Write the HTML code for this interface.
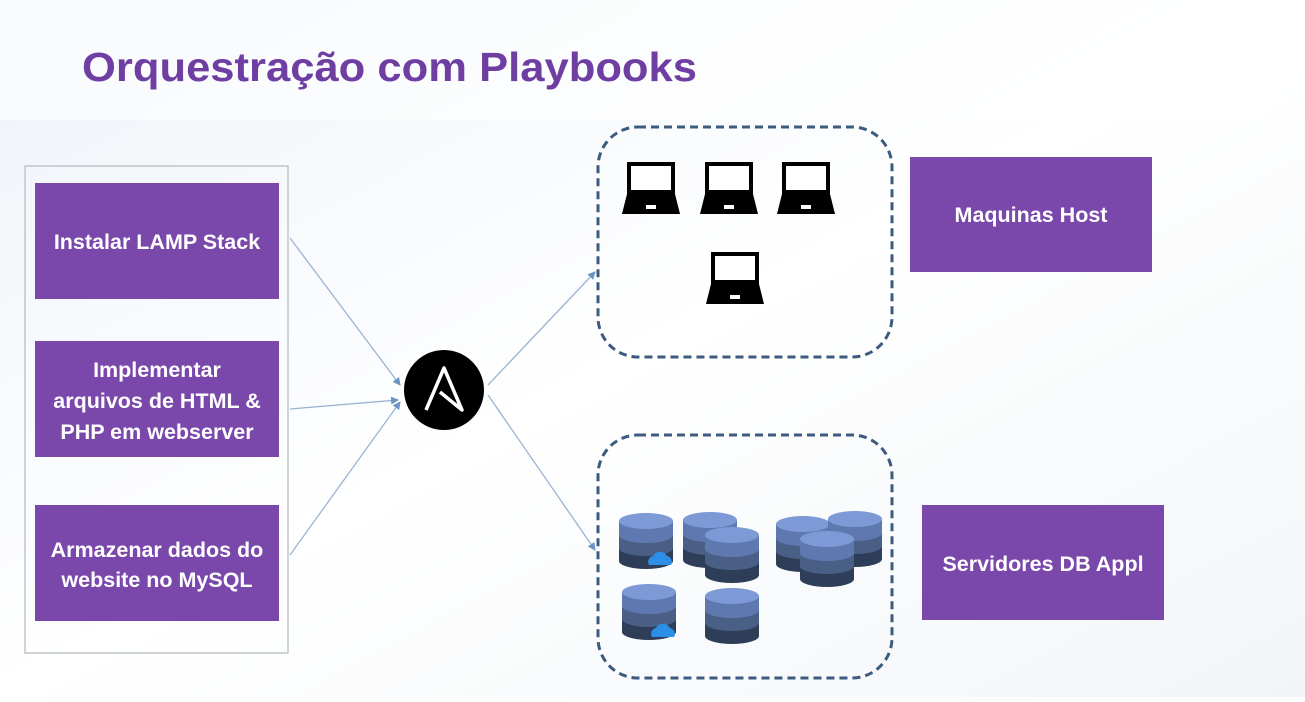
<!DOCTYPE html>
<html><head><meta charset="utf-8"><style>
html,body{margin:0;padding:0;background:#fff;}
body{width:1305px;height:697px;overflow:hidden;font-family:"Liberation Sans",sans-serif;}
</style></head><body>
<svg width="1305" height="697" viewBox="0 0 1305 697" xmlns="http://www.w3.org/2000/svg" font-family="Liberation Sans, sans-serif">
<defs>
<linearGradient id="bg" x1="0" y1="0" x2="1" y2="1">
<stop offset="0" stop-color="#eef3f8"/><stop offset="0.5" stop-color="#ffffff"/><stop offset="1" stop-color="#f2f5f8"/>
</linearGradient>
<marker id="ar" markerWidth="8" markerHeight="8" refX="7" refY="4" orient="auto" markerUnits="userSpaceOnUse">
<path d="M0,0 L8,4 L0,8 z" fill="#6a94c4"/></marker>
<g id="lap">
<rect x="7" y="2" width="44" height="28" fill="#fff" stroke="#000" stroke-width="4"/>
<path d="M5,32 L53,32 L58,52 L0,52 Z" fill="#000"/>
<rect x="24" y="43" width="10" height="4" fill="#fff"/>
</g>
<g id="db">
<path d="M0,8 L0,48 A27,8 0 0 0 54,48 L54,8 Z" fill="#2f3e58"/>
<path d="M0,8 L0,35 A27,8 0 0 0 54,35 L54,8 Z" fill="#4a5f86"/>
<path d="M0,8 L0,22 A27,8 0 0 0 54,22 L54,8 Z" fill="#6078b0"/>
<ellipse cx="27" cy="8" rx="27" ry="8" fill="#7d9ad6"/>
</g>
<g id="cl">
<path d="M2,14 A6,6 0 0 1 6,5 A8,8 0 0 1 20,5 A6,6 0 0 1 24,14 Z" fill="#2d8ee8"/>
</g>
</defs>
<rect width="1305" height="697" fill="url(#bg)"/>
<rect x="0" y="0" width="1305" height="120" fill="#fff" opacity="0.6"/>
<text x="82" y="81" font-size="41" font-weight="bold" fill="#6f3ea3" textLength="615" lengthAdjust="spacingAndGlyphs">Orquestração com Playbooks</text>

<rect x="25" y="166" width="263" height="487" fill="none" stroke="#bfc6cc" stroke-width="1.5"/>
<g fill="#7a48ab">
<rect x="35" y="183" width="244" height="116"/>
<rect x="35" y="341" width="244" height="116"/>
<rect x="35" y="505" width="244" height="116"/>
<rect x="910" y="157" width="242" height="115"/>
<rect x="922" y="505" width="242" height="115"/>
</g>
<g fill="#fff" font-size="21.5" font-weight="bold" text-anchor="middle">
<text x="157" y="249">Instalar LAMP Stack</text>
<text x="157" y="377">Implementar</text>
<text x="157" y="408">arquivos de HTML &amp;</text>
<text x="157" y="439">PHP em webserver</text>
<text x="157" y="557">Armazenar dados do</text>
<text x="157" y="587">website no MySQL</text>
<text x="1031" y="222">Maquinas Host</text>
<text x="1043" y="571">Servidores DB Appl</text>
</g>

<g stroke="#9ab4d4" stroke-width="1.3" fill="none">
<line x1="290" y1="238" x2="400" y2="385" marker-end="url(#ar)"/>
<line x1="290" y1="409" x2="398" y2="400" marker-end="url(#ar)"/>
<line x1="290" y1="555" x2="400" y2="402" marker-end="url(#ar)"/>
<line x1="488" y1="385" x2="595" y2="272" marker-end="url(#ar)"/>
<line x1="488" y1="395" x2="595" y2="550" marker-end="url(#ar)"/>
</g>
<circle cx="444" cy="390" r="40" fill="#000"/>
<path d="M426,410 L444,368 L462,410 L440,392" fill="none" stroke="#fff" stroke-width="3.5" stroke-linejoin="round"/>

<rect x="598" y="127" width="294" height="230" rx="40" fill="none" stroke="#3d5a7f" stroke-width="3" stroke-dasharray="8,5"/>
<rect x="598" y="435" width="294" height="243" rx="40" fill="none" stroke="#3d5a7f" stroke-width="3" stroke-dasharray="8,5"/>

<use href="#lap" x="622" y="162"/>
<use href="#lap" x="700" y="162"/>
<use href="#lap" x="777" y="162"/>
<use href="#lap" x="706" y="252"/>

<use href="#db" x="619" y="513"/>
<use href="#cl" x="647" y="551"/>
<use href="#db" x="683" y="512"/>
<use href="#db" x="705" y="527"/>
<use href="#db" x="622" y="584"/>
<use href="#cl" x="650" y="623"/>
<use href="#db" x="705" y="588"/>
<use href="#db" x="776" y="516"/>
<use href="#db" x="828" y="511"/>
<use href="#db" x="800" y="531"/>
</svg>
</body></html>
